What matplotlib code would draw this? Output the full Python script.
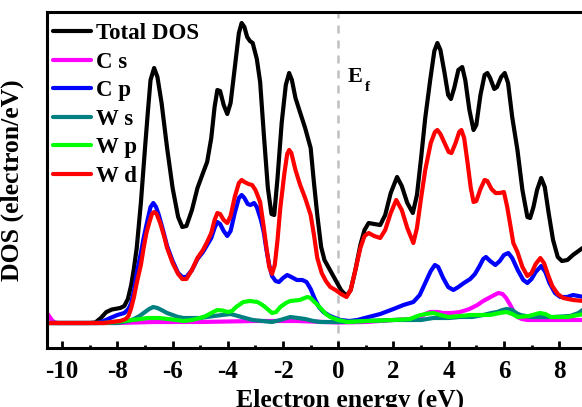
import matplotlib
matplotlib.use("Agg")
import matplotlib.pyplot as plt

plt.rcParams['font.family'] = ['Liberation Serif', 'DejaVu Serif']
plt.rcParams['font.weight'] = 'bold'
plt.rcParams['axes.unicode_minus'] = False

# ---- data (energy in eV, DOS in arbitrary units) ----
total_x = [-10.55, -9.0, -8.8, -8.6, -8.4, -8.2, -7.9, -7.75, -7.62, -7.5, -7.4, -7.3, -7.15, -7.0, -6.9, -6.8,
           -6.67, -6.55, -6.4, -6.2, -6.0, -5.8, -5.65, -5.5, -5.3, -5.1, -4.9, -4.75, -4.6, -4.48, -4.38, -4.28,
           -4.15, -4.02, -3.9, -3.75, -3.6, -3.5, -3.4, -3.3, -3.2, -3.1, -2.95, -2.83, -2.7, -2.55, -2.42, -2.32,
           -2.2, -2.05, -1.9, -1.78, -1.68, -1.55, -1.4, -1.2, -1.0, -0.88, -0.76, -0.62, -0.5, -0.3, -0.1, 0.1,
           0.3, 0.45, 0.62, 0.8, 0.95, 1.1, 1.3, 1.52, 1.7, 1.9, 2.13, 2.3, 2.5, 2.7, 2.85, 3.0, 3.15, 3.33, 3.48,
           3.59, 3.7, 3.85, 3.98, 4.08, 4.2, 4.35, 4.49, 4.6, 4.75, 4.9, 5.0, 5.15, 5.3, 5.4, 5.5, 5.65, 5.75, 5.9,
           6.03, 6.15, 6.3, 6.49, 6.67, 6.85, 6.95, 7.07, 7.2, 7.35, 7.48, 7.62, 7.78, 7.95, 8.1, 8.3, 8.5, 8.9]
total_y = [0.0, 0.0, 0.05, 0.5, 1.1, 1.35, 1.5, 1.7, 2.4, 3.8, 5.5, 7.5, 12.0, 17.5, 21.0, 24.3,
           25.5, 24.6, 22.0, 17.5, 13.5, 10.6, 9.6, 9.7, 11.3, 13.5, 15.0, 16.1, 18.5, 21.6, 23.3, 23.2,
           21.8, 20.9, 22.0, 25.5, 29.0, 30.0, 29.6, 28.6, 28.2, 28.0, 26.4, 24.1, 19.0, 13.5, 10.9, 10.8,
           14.5, 20.0, 23.8, 25.0, 24.3, 22.5, 21.2, 19.5, 17.5, 14.0, 10.8, 7.6, 6.3, 5.3, 4.3, 3.3,
           2.7, 3.3, 5.3, 7.8, 9.3, 10.0, 9.9, 9.8, 10.8, 13.0, 14.6, 13.7, 12.0, 11.0, 12.8, 16.5, 20.5, 24.3, 27.2,
           28.0, 27.3, 25.0, 22.8, 22.4, 23.5, 25.3, 25.6, 24.3, 21.3, 19.3, 19.8, 22.8, 24.8, 25.0, 24.5, 23.4, 23.6, 24.6,
           25.0, 24.0, 20.6, 17.3, 13.3, 10.6, 10.5, 11.6, 13.3, 14.5, 13.6, 11.0, 8.3, 6.6, 6.2, 6.3, 6.8, 7.6]

cs_x = [-10.55, -10.45, -10.35, -10.2, -8.0, -6.7, -5.0, -3.0, -1.5, 0.0, 1.0, 2.0, 2.6, 2.97, 3.15, 3.33, 3.6,
        3.8, 4.1, 4.42, 4.75, 5.04, 5.25, 5.45, 5.65, 5.8, 5.95, 6.08, 6.23, 6.36, 6.49, 6.65, 6.85, 8.0, 8.9]
cs_y = [1.0, 0.6, 0.2, 0.0, 0.0, 0.1, 0.1, 0.2, 0.2, 0.05, 0.1, 0.3, 0.4, 0.6, 0.9, 1.1, 1.1,
        1.0, 1.0, 1.1, 1.4, 1.8, 2.2, 2.5, 2.8, 3.0, 2.9, 2.5, 1.8, 1.1, 0.6, 0.4, 0.3, 0.3, 0.3]

cp_x = [-10.55, -8.7, -8.5, -8.26, -8.0, -7.75, -7.6, -7.5, -7.4, -7.3, -7.15, -7.05, -6.9, -6.8, -6.7, -6.6,
        -6.5, -6.35, -6.2, -6.0, -5.8, -5.65, -5.5, -5.3, -5.1, -4.9, -4.75, -4.6, -4.48, -4.38, -4.28, -4.15,
        -4.02, -3.9, -3.75, -3.6, -3.5, -3.4, -3.28, -3.18, -3.05, -2.95, -2.8, -2.7, -2.6, -2.5, -2.4, -2.27,
        -2.15, -2.0, -1.85, -1.7, -1.5, -1.3, -1.15, -1.0, -0.85, -0.7, -0.54, -0.3, 0.07, 0.4, 0.69, 1.1, 1.52,
        2.0, 2.36, 2.72, 2.95, 3.15, 3.35, 3.5, 3.62, 3.8, 3.98, 4.17, 4.35, 4.55, 4.78, 4.95, 5.1, 5.25, 5.35,
        5.5, 5.69, 5.85, 6.0, 6.16, 6.3, 6.5, 6.7, 6.85, 7.0, 7.15, 7.35, 7.5, 7.65, 7.85, 8.04, 8.3, 8.5, 8.9]
cp_y = [0.0, 0.0, 0.2, 0.5, 0.8, 1.0, 1.4, 2.0, 3.2, 5.0, 7.0, 8.5, 10.4, 11.6, 12.0, 11.6,
        10.8, 9.3, 7.7, 6.2, 5.0, 4.6, 4.6, 5.3, 6.4, 7.1, 7.8, 8.5, 9.5, 10.1, 9.9, 9.2,
        8.7, 9.2, 11.0, 12.5, 12.8, 12.5, 11.9, 11.8, 12.0, 11.6, 10.3, 9.1, 7.3, 5.8, 4.7, 4.2,
        4.1, 4.5, 4.8, 4.6, 4.3, 4.3, 4.1, 3.4, 2.4, 1.6, 1.1, 0.7, 0.3, 0.2, 0.3, 0.6, 0.9,
        1.4, 1.8, 2.1, 2.8, 4.0, 5.2, 5.8, 5.6, 4.5, 3.6, 3.3, 3.6, 4.0, 4.4, 4.9, 5.6, 6.4, 6.6,
        6.2, 5.8, 6.2, 6.8, 7.0, 6.5, 5.3, 4.3, 4.0, 4.4, 5.1, 5.7, 5.1, 4.0, 3.0, 2.6, 2.6, 2.8, 2.6]

ws_x = [-10.55, -8.0, -7.6, -7.4, -7.2, -7.05, -6.85, -6.7, -6.55, -6.4, -6.2, -6.0, -5.8, -5.6, -5.0, -4.5,
        -4.2, -3.9, -3.5, -3.1, -2.75, -2.4, -2.1, -1.74, -1.45, -1.2, -0.9, -0.65, 0.0, 1.0, 2.0, 3.0, 3.44,
        4.0, 4.4, 4.85, 5.25, 5.55, 5.75, 5.95, 6.1, 6.3, 6.45, 6.6, 6.8, 7.0, 7.4, 7.8, 8.4, 8.7, 8.9]
ws_y = [0.0, 0.0, 0.2, 0.4, 0.7, 1.0, 1.4, 1.6, 1.5, 1.3, 1.0, 0.8, 0.6, 0.5, 0.5, 0.7,
        0.8, 0.9, 0.6, 0.3, 0.2, 0.1, 0.3, 0.6, 0.5, 0.4, 0.2, 0.1, 0.1, 0.2, 0.3, 0.3, 0.5,
        0.5, 0.6, 0.6, 0.8, 1.0, 1.1, 1.3, 1.4, 1.3, 1.0, 0.8, 0.7, 0.6, 0.6, 0.6, 0.7, 1.0, 1.4]

wp_x = [-10.55, -8.5, -7.8, -7.3, -6.9, -6.5, -6.0, -5.6, -5.3, -5.0, -4.8, -4.6, -4.38, -4.2, -4.0, -3.85,
        -3.7, -3.44, -3.2, -2.93, -2.8, -2.65, -2.4, -2.25, -2.1, -1.9, -1.74, -1.4, -1.12, -1.0, -0.9, -0.78,
        -0.65, -0.45, -0.29, 0.0, 0.33, 1.0, 2.0, 2.6, 2.86, 3.15, 3.44, 3.7, 4.0, 4.4, 4.8, 5.5, 5.85, 6.1,
        6.3, 6.5, 6.9, 7.3, 7.5, 7.7, 8.3, 8.9]
wp_y = [0.0, 0.0, 0.2, 0.35, 0.5, 0.5, 0.35, 0.2, 0.3, 0.5, 0.7, 1.0, 1.3, 1.25, 1.1, 1.2,
        1.6, 2.1, 2.2, 2.1, 1.9, 1.6, 1.0, 1.1, 1.6, 2.0, 2.2, 2.3, 2.6, 2.5, 2.2, 1.9,
        1.5, 0.9, 0.6, 0.3, 0.1, 0.2, 0.3, 0.4, 0.7, 0.9, 1.0, 0.8, 0.6, 0.7, 0.8, 0.8, 1.0, 1.1,
        0.9, 0.6, 0.7, 1.0, 0.9, 0.6, 0.6, 0.9]

wd_x = [-10.55, -8.5, -7.9, -7.7, -7.6, -7.5, -7.4, -7.3, -7.15, -7.05, -6.95, -6.85, -6.75, -6.67, -6.58,
        -6.45, -6.3, -6.2, -6.0, -5.8, -5.65, -5.5, -5.3, -5.1, -4.9, -4.75, -4.6, -4.48, -4.38, -4.28, -4.15,
        -4.02, -3.9, -3.75, -3.6, -3.5, -3.4, -3.25, -3.12, -3.0, -2.83, -2.7, -2.6, -2.5, -2.4, -2.3, -2.2,
        -2.1, -1.95, -1.85, -1.78, -1.7, -1.55, -1.38, -1.2, -1.0, -0.88, -0.76, -0.6, -0.45, -0.29, -0.1, 0.1,
        0.3, 0.45, 0.62, 0.8, 0.95, 1.1, 1.3, 1.52, 1.7, 1.9, 2.1, 2.3, 2.5, 2.72, 2.85, 3.0, 3.15, 3.35, 3.5,
        3.59, 3.7, 3.85, 4.0, 4.1, 4.25, 4.38, 4.46, 4.56, 4.67, 4.8, 4.9, 5.0, 5.15, 5.3, 5.4, 5.55, 5.7,
        5.85, 6.0, 6.12, 6.25, 6.34, 6.49, 6.67, 6.85, 7.0, 7.15, 7.32, 7.45, 7.6, 7.75, 7.95, 8.15, 8.5, 8.9]
wd_y = [0.0, 0.0, 0.2, 0.4, 0.7, 1.5, 2.6, 4.0, 5.8, 7.5, 9.0, 10.0, 10.9, 11.1, 10.9,
        10.0, 8.6, 7.5, 6.0, 4.9, 4.4, 4.4, 5.3, 6.5, 7.3, 8.1, 9.0, 10.3, 11.0, 10.9, 10.3,
        10.0, 10.7, 12.6, 14.0, 14.3, 14.1, 13.9, 13.8, 13.3, 12.1, 9.6, 7.5, 5.6, 4.9, 5.8, 8.3,
        11.5, 15.0, 16.9, 17.3, 17.0, 15.3, 13.8, 12.5, 10.8, 8.8, 6.5, 5.0, 4.2, 3.6, 3.3, 2.9,
        2.6, 3.3, 5.3, 7.5, 8.7, 9.0, 8.7, 8.5, 9.3, 11.0, 12.3, 11.3, 9.5, 8.0, 9.5, 12.5, 15.3, 18.0, 19.1,
        19.3, 18.9, 18.0, 17.1, 17.0, 18.0, 19.1, 19.3, 18.5, 16.3, 13.5, 12.1, 12.2, 13.4, 14.3, 14.2, 13.4, 13.0,
        13.0, 13.1, 11.6, 9.5, 8.0, 7.1, 5.6, 4.7, 5.0, 5.9, 6.5, 6.0, 4.8, 3.7, 2.9, 2.5, 2.3, 2.2]

labels = ["Total DOS", "C s", "C p", "W s", "W p", "W d"]
colors = ["#000000", "#ff00ff", "#0000ff", "#008080", "#00ff00", "#ff0000"]
major_ticks = [-10, -8, -6, -4, -2, 0, 2, 4, 6, 8]
minor_ticks = [-9, -7, -5, -3, -1, 1, 3, 5, 7, 9]

W, H = 582, 407
fig = plt.figure(figsize=(W / 100, H / 100), dpi=100)
ax_left, ax_right, ax_top, ax_bot = 47, 653, 12, 348
ax = fig.add_axes([ax_left / W, 1 - ax_bot / H, (ax_right - ax_left) / W, (ax_bot - ax_top) / H])

series = [(total_x, total_y), (cs_x, cs_y), (cp_x, cp_y), (ws_x, ws_y), (wp_x, wp_y), (wd_x, wd_y)]
for (xs, ys), lab, col in zip(series, labels, colors):
    ax.plot(xs, ys, color=col, lw=3.0, label=lab, solid_joinstyle='round', solid_capstyle='round')

ax.axvline(0, color='#c0c0c0', lw=1.8, linestyle=(0, (3.2, 2.8)), zorder=0)

ax.set_xlim(-10.55, 11.4)
ax.set_ylim(-2.5, 31.1)
ax.set_xticks(major_ticks)
ax.set_xticklabels([str(v) for v in major_ticks])
ax.set_xticks(minor_ticks, minor=True)
ax.set_yticks([])
ax.tick_params(axis='x', which='major', direction='in', length=5, width=2, pad=9, labelsize=18)
ax.tick_params(axis='x', which='minor', direction='in', length=2.5, width=2)
for s in ['left', 'bottom', 'top']:
    ax.spines[s].set_linewidth(2.2)
ax.spines['right'].set_visible(False)
for t in ax.get_xticklabels():
    t.set_fontweight('bold')

ax.set_xlabel("Electron energy (eV)", fontsize=18.5, fontweight='bold', labelpad=3.5)
ax.set_ylabel("DOS (electron/eV)", fontsize=18.5, fontweight='bold')
ax.yaxis.set_label_coords((24 - ax_left) / (ax_right - ax_left), 0.5)

leg = ax.legend(loc='upper left',
                bbox_to_anchor=((53 - ax_left) / (ax_right - ax_left), 1 - (23 - ax_top) / (ax_bot - ax_top)),
                frameon=False, fontsize=16.5, handlelength=1.65, handletextpad=0.22, labelspacing=0.33,
                borderpad=0, borderaxespad=0)
for t in leg.get_texts():
    t.set_fontweight('bold')
for h in leg.get_lines():
    h.set_linewidth(3.0)

fig.text(348 / W, 1 - 82 / H, "E", fontsize=16, fontweight='bold', va='baseline', ha='left')
fig.text(365 / W, 1 - 91 / H, "f", fontsize=11, fontweight='bold', va='baseline', ha='left')

fig.savefig("out.png", dpi=100)
